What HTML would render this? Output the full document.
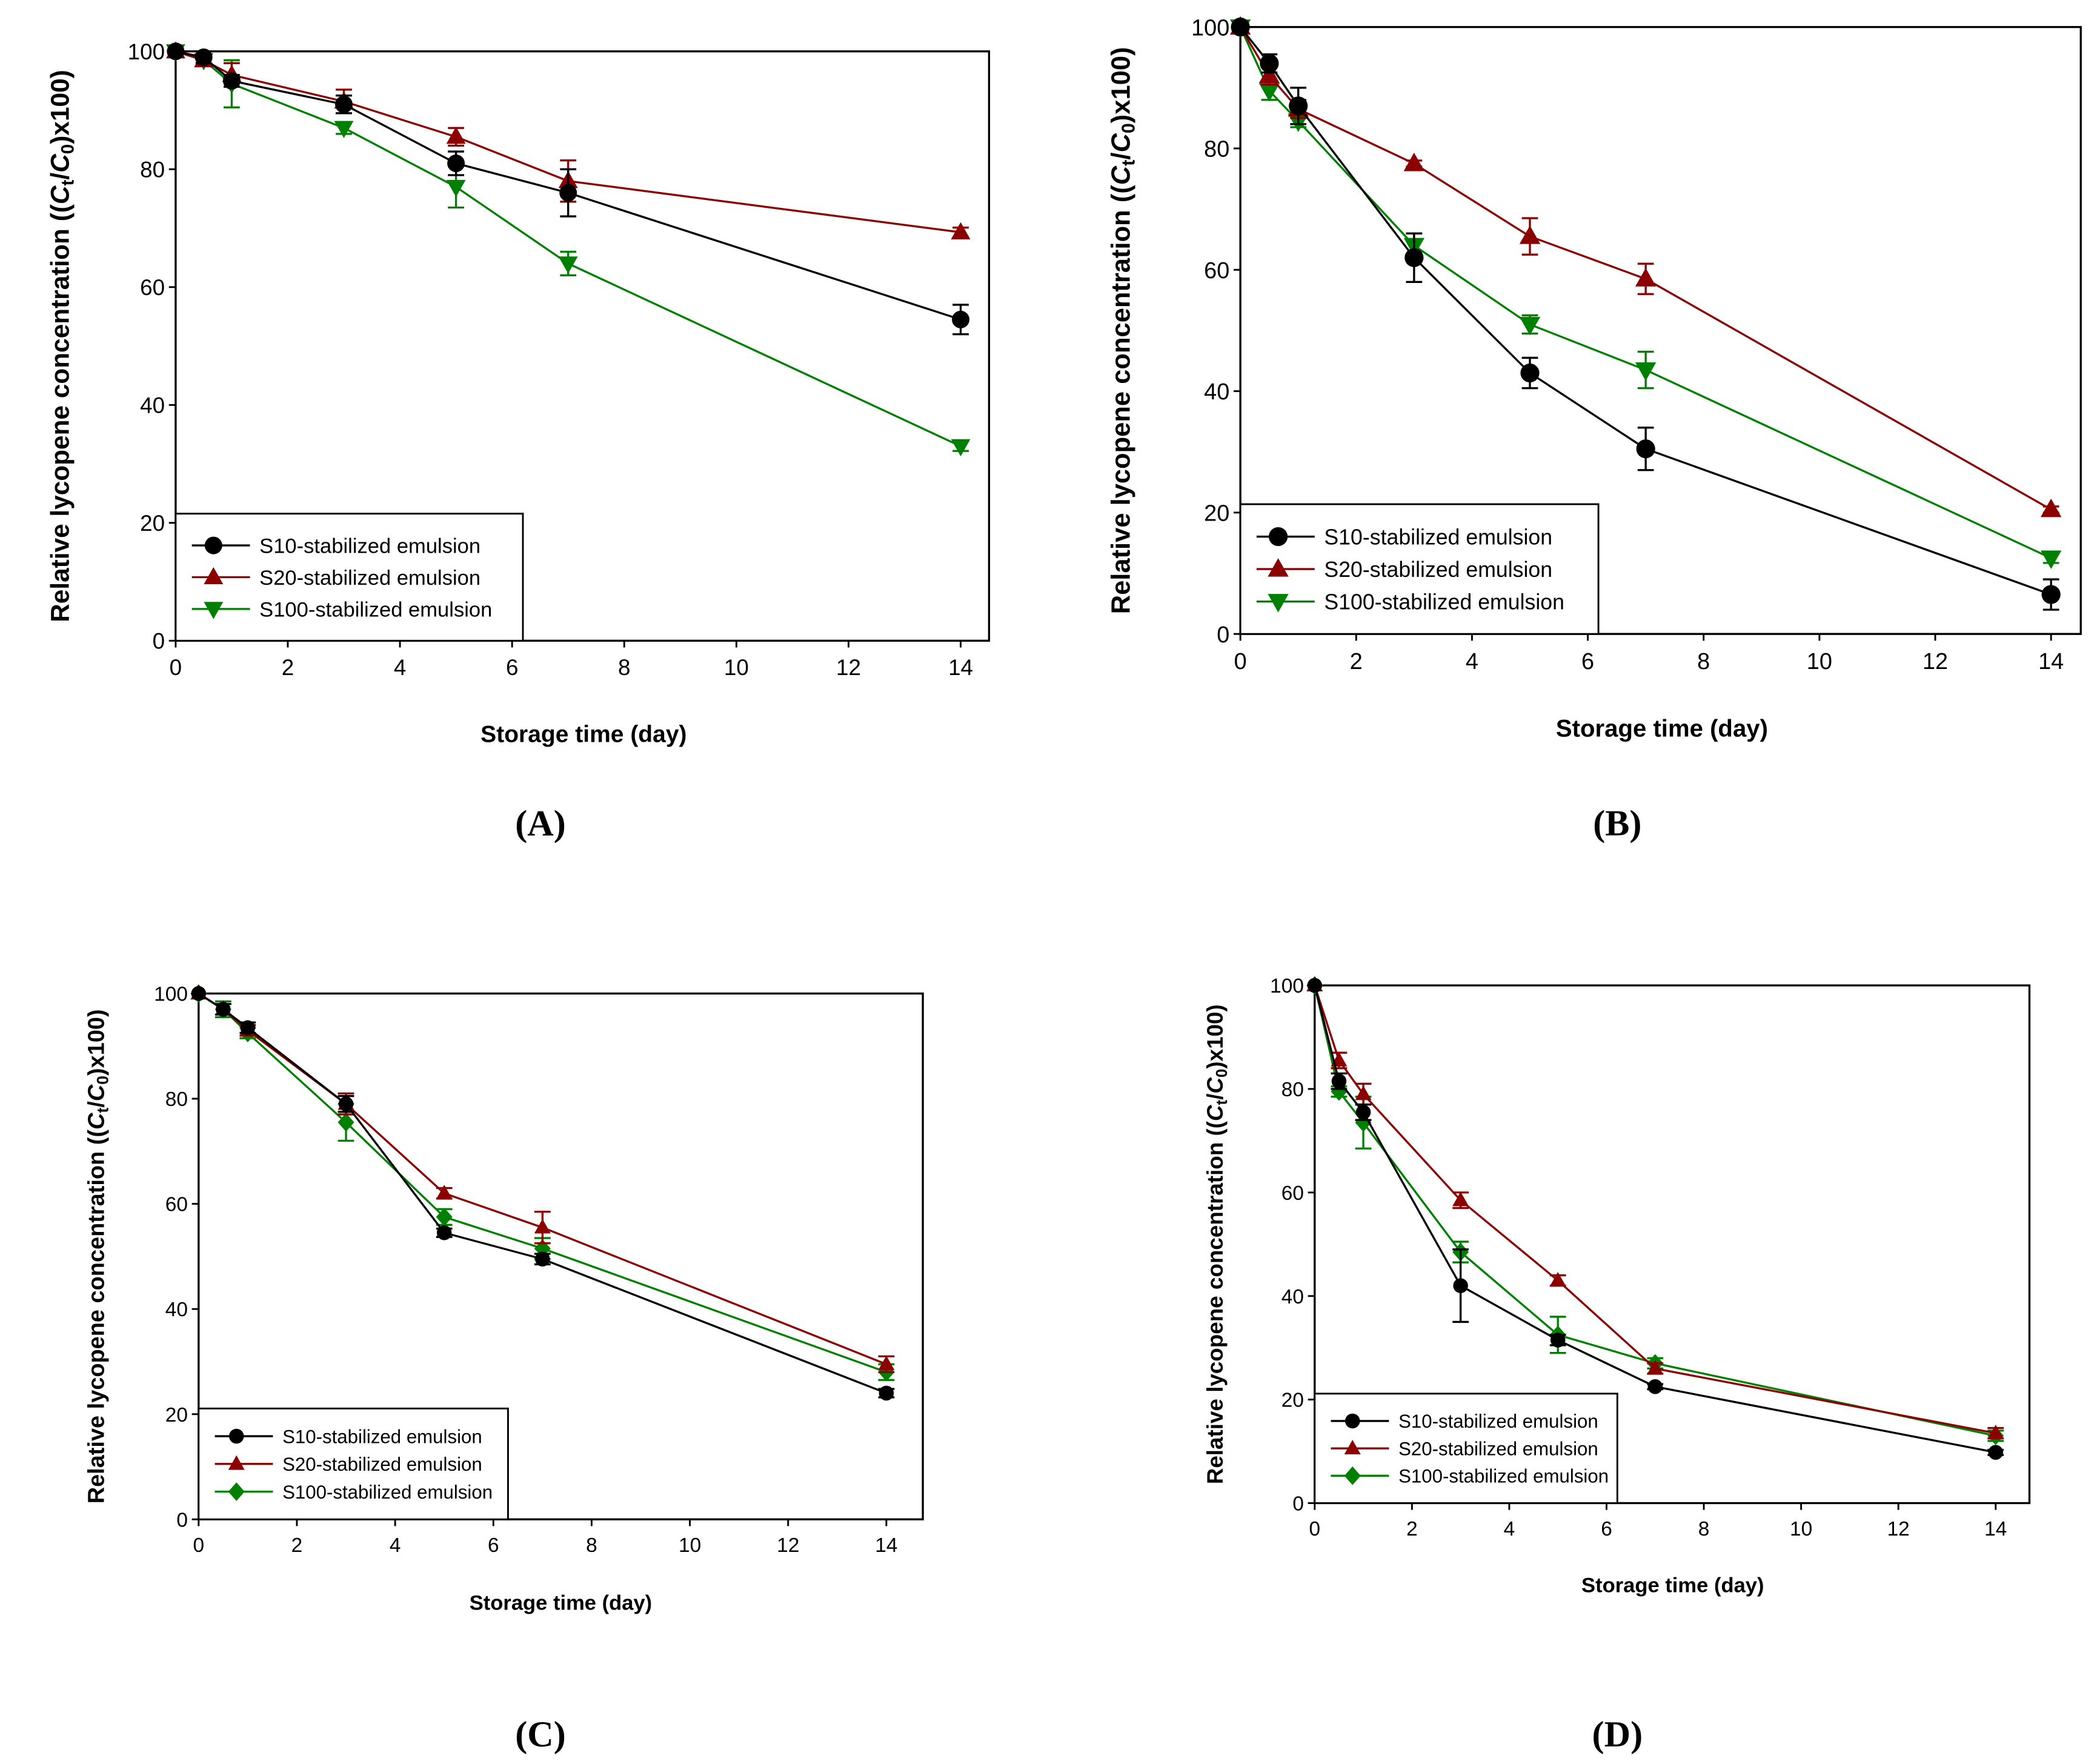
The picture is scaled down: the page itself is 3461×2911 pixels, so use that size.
<!DOCTYPE html>
<html><head><meta charset="utf-8"><style>
html,body{margin:0;padding:0;background:#fff}
svg{display:block}
</style></head><body>
<svg id="fig" width="3461" height="2911" viewBox="0 0 1552 1305" preserveAspectRatio="none" xmlns="http://www.w3.org/2000/svg" font-family="Liberation Sans, Arial, sans-serif"></svg>
<script>
const days = [0, 0.5, 1, 3, 5, 7, 14];
const seriesNames = ["S10-stabilized emulsion", "S20-stabilized emulsion", "S100-stabilized emulsion"];
const xTicks = [0, 2, 4, 6, 8, 10, 12, 14];
const yTicks = [0, 20, 40, 60, 80, 100];
// Panel A
const aS10 = [100, 99, 95, 91, 81, 76, 54.5];
const aS10Err = [0, 1, 1, 1.5, 2, 4, 2.5];
const aS20 = [100, 98.5, 96, 91.5, 85.5, 78, 69.3];
const aS20Err = [0, 1, 2, 2, 1.5, 3.5, 0.8];
const aS100 = [100, 98.5, 94.5, 87, 77, 64, 33];
const aS100Err = [0, 1, 4, 1, 3.5, 2, 0.8];
// Panel B
const bS10 = [100, 94, 87, 62, 43, 30.5, 6.5];
const bS10Err = [0, 1.5, 3, 4, 2.5, 3.5, 2.5];
const bS20 = [100, 92, 86.5, 77.5, 65.5, 58.5, 20.5];
const bS20Err = [0, 1.5, 1.5, 0.5, 3, 2.5, 0.5];
const bS100 = [100, 89.5, 84.5, 64, 51, 43.5, 12.5];
const bS100Err = [0, 1.5, 1, 2, 1.5, 3, 0.8];
// Panel C
const cS10 = [100, 97, 93.5, 79, 54.5, 49.5, 24];
const cS10Err = [0, 1, 1, 1.5, 0.8, 1, 0.8];
const cS20 = [100, 97, 93, 79, 62, 55.5, 29.5];
const cS20Err = [0, 1, 1, 2, 1, 3, 1.5];
const cS100 = [100, 97, 92.5, 75.5, 57.5, 51.5, 28];
const cS100Err = [0, 1.5, 1, 3.5, 1.5, 2, 1.5];
// Panel D
const dS10 = [100, 81.5, 75.5, 42, 31.5, 22.5, 9.8];
const dS10Err = [0, 1.5, 1.5, 7, 1, 0.5, 0.5];
const dS20 = [100, 85.5, 79, 58.5, 43, 26, 13.5];
const dS20Err = [0, 1.5, 2, 1.5, 1, 1, 1];
const dS100 = [100, 79.5, 73.5, 48.5, 32.5, 27, 13];
const dS100Err = [0, 1, 5, 2, 3.5, 1, 1];

const NS = "http://www.w3.org/2000/svg";
const svg = document.getElementById("fig");
const COLORS = ["#000000", "#8b0000", "#008000"];

function mk(tag, attrs, parent) {
  const e = document.createElementNS(NS, tag);
  for (const k in attrs) e.setAttribute(k, attrs[k]);
  parent.appendChild(e);
  return e;
}

function marker(g, kind, cx, cy, r, color) {
  let e;
  if (kind === "circle") e = mk("circle", {cx: cx, cy: cy, r: r, fill: color}, g);
  else if (kind === "up") e = mk("polygon", {points: `${cx},${cy - r * 1.15} ${cx - r * 1.1},${cy + r * 0.8} ${cx + r * 1.1},${cy + r * 0.8}`, fill: color}, g);
  else if (kind === "down") e = mk("polygon", {points: `${cx},${cy + r * 1.15} ${cx - r * 1.1},${cy - r * 0.8} ${cx + r * 1.1},${cy - r * 0.8}`, fill: color}, g);
  else e = mk("polygon", {points: `${cx},${cy - r * 1.25} ${cx + r * 1.1},${cy} ${cx},${cy + r * 1.25} ${cx - r * 1.1},${cy}`, fill: color}, g);
  return e;
}

function panel(cfg) {
  const g = mk("g", {}, svg);
  
  
  const xS = v => cfg.x0 + (cfg.x14 - cfg.x0) * v / 14;
  const yS = v => cfg.y0 + (cfg.y100 - cfg.y0) * v / 100;
  const frame = mk("rect", {x: cfg.x0, y: cfg.y100, width: cfg.xr - cfg.x0, height: cfg.y0 - cfg.y100, fill: "none", stroke: "#000", "stroke-width": 1.5}, g);
  
  
  xTicks.forEach(t => {
    mk("line", {x1: xS(t), x2: xS(t), y1: cfg.y0, y2: cfg.y0 + 5, stroke: "#000", "stroke-width": 1.3}, g);
    const tx = mk("text", {x: xS(t), y: cfg.y0 + 5 + cfg.fs + 4, "font-size": cfg.fs, "text-anchor": "middle"}, g);
    tx.textContent = t;
    
    
  });
  yTicks.forEach(t => {
    mk("line", {x1: cfg.x0 - 5, x2: cfg.x0, y1: yS(t), y2: yS(t), stroke: "#000", "stroke-width": 1.3}, g);
    const tx = mk("text", {x: cfg.x0 - 8, y: yS(t) + cfg.fs * 0.36, "font-size": cfg.fs, "text-anchor": "end"}, g);
    tx.textContent = t;
    
    
  });
  const xt = mk("text", {x: cfg.xtx, y: cfg.xty, "font-size": cfg.tfs, "font-weight": "bold", "text-anchor": "middle"}, g);
  xt.textContent = "Storage time (day)";
  
  
  const ymid = (cfg.y0 + cfg.y100) / 2;
  const yt = mk("text", {x: 0, y: 0, "font-size": cfg.ytfs, "font-weight": "bold", "text-anchor": "middle", transform: `translate(${cfg.ytx},${ymid}) rotate(-90)`}, g);
  
  
  yt.innerHTML = 'Relative lycopene concentration ((<tspan font-style="italic">C</tspan><tspan font-size="' + (cfg.ytfs * 0.7) + '" baseline-shift="-25%">t</tspan>/<tspan font-style="italic">C</tspan><tspan font-size="' + (cfg.ytfs * 0.7) + '" baseline-shift="-25%">0</tspan>)x100)';
  const data = cfg.data;
  const kinds = ["circle", "up", cfg.third];
  [2, 1, 0].forEach(i => {
    const vals = data[i][0], errs = data[i][1], col = COLORS[i];
    const sg = mk("g", {}, g);
    
    
    const pts = days.map((d, k) => xS(d) + "," + yS(vals[k])).join(" ");
    const pl = mk("polyline", {points: pts, fill: "none", stroke: col, "stroke-width": 1.5}, sg);
    
    
    days.forEach((d, k) => {
      if (errs[k] > 0) {
        const x = xS(d), yt2 = yS(vals[k] + errs[k]), yb = yS(vals[k] - errs[k]);
        const eb = mk("path", {d: `M${x},${yt2}V${yb}M${x - 6},${yt2}H${x + 6}M${x - 6},${yb}H${x + 6}`, stroke: col, "stroke-width": 1.5, fill: "none"}, sg);
        
        
      }
      const m = marker(sg, kinds[i], xS(d), yS(vals[k]), cfg.mr, col);
      
      
    });
  });
  const lg = mk("g", {}, g);
  
  
  const lb = mk("rect", {x: cfg.x0, y: cfg.ly, width: cfg.lw, height: cfg.y0 - cfg.ly, fill: "#fff", stroke: "#000", "stroke-width": 1.3}, lg);
  
  
  const step = (cfg.y0 - cfg.ly) / 4;
  seriesNames.forEach((n, i) => {
    const cy = cfg.ly + step * (1 + i);
    const eg = mk("g", {}, lg);
    
    
    mk("line", {x1: cfg.x0 + 12, x2: cfg.x0 + 55, y1: cy, y2: cy, stroke: COLORS[i], "stroke-width": 1.5}, eg);
    marker(eg, kinds[i], cfg.x0 + 28, cy, cfg.mr, COLORS[i]);
    const t = mk("text", {x: cfg.x0 + 62, y: cy + cfg.lfs * 0.36, "font-size": cfg.lfs}, eg);
    t.textContent = n;
  });
  const pl = mk("text", {x: cfg.px, y: cfg.py, "font-size": 27, "font-weight": "bold", "text-anchor": "middle", "font-family": "Liberation Serif, serif"}, svg);
  pl.textContent = "(" + cfg.id + ")";
  
  
}

panel({id: "A", x0: 130, x14: 711, xr: 732, y100: 38, y0: 474, ly: 380, lw: 257, fs: 16.5, tfs: 17.5, ytfs: 19, lfs: 15.5, mr: 6.5, third: "down",
  xtx: 432, xty: 549, ytx: 51, px: 400, py: 618,
  data: [[aS10, aS10Err], [aS20, aS20Err], [aS100, aS100Err]]});
panel({id: "B", x0: 918, x14: 1518, xr: 1540, y100: 20, y0: 469, ly: 373, lw: 265, fs: 17, tfs: 18, ytfs: 19.5, lfs: 16, mr: 7, third: "down",
  xtx: 1230, xty: 545, ytx: 836, px: 1197, py: 618,
  data: [[bS10, bS10Err], [bS20, bS20Err], [bS100, bS100Err]]});
panel({id: "C", x0: 147, x14: 656, xr: 683, y100: 735, y0: 1124, ly: 1042, lw: 229, fs: 15, tfs: 15.5, ytfs: 17, lfs: 14, mr: 5.5, third: "diamond",
  xtx: 415, xty: 1191, ytx: 77, px: 400, py: 1292,
  data: [[cS10, cS10Err], [cS20, cS20Err], [cS100, cS100Err]]});
panel({id: "D", x0: 973, x14: 1477, xr: 1502, y100: 729, y0: 1112, ly: 1031, lw: 224, fs: 15, tfs: 15.5, ytfs: 16.5, lfs: 14, mr: 5.5, third: "diamond",
  xtx: 1238, xty: 1178, ytx: 905, px: 1197, py: 1292,
  data: [[dS10, dS10Err], [dS20, dS20Err], [dS100, dS100Err]]});
</script>
</body></html>
